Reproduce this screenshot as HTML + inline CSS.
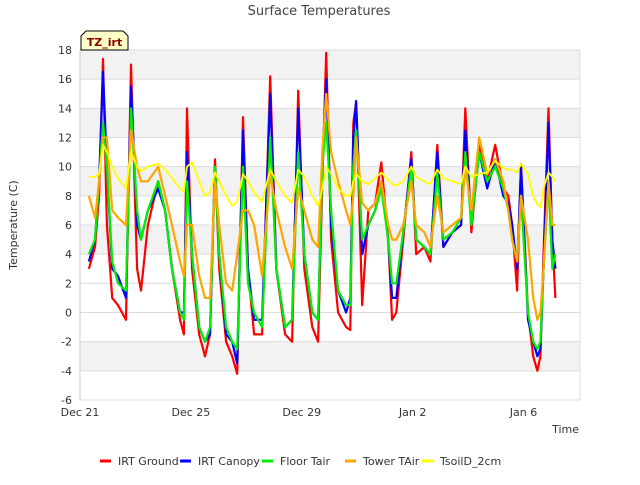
<!DOCTYPE html>
<html><head><meta charset="utf-8"><style>
body{margin:0;background:#fff;font-family:"Liberation Sans","DejaVu Sans",sans-serif}
svg text{font-family:"DejaVu Sans","Liberation Sans",sans-serif}
</style></head><body>
<svg id="c" width="640" height="480">
<rect width="640" height="480" fill="#fff"/>
<text x="319" y="15" text-anchor="middle" font-size="13" fill="#444">Surface Temperatures</text>
<g id="bands"></g><g id="grid"></g><g id="axes"></g><g id="series"></g>
<text x="579" y="433" text-anchor="end" font-size="11" fill="#333">Time</text>
<text transform="translate(17,225) rotate(-90)" text-anchor="middle" font-size="11" fill="#333">Temperature (C)</text>
<g>
<path d="M81,36 L86,31 L123,31 L128,36 L128,50 L81,50 Z" fill="#ffffc8" stroke="#000" stroke-width="1"/>
<text x="104.5" y="46" text-anchor="middle" font-size="11" font-weight="bold" fill="#8b0000">TZ_irt</text>
</g>
<g id="legend"></g>
</svg>
<script>
const days=[0.32,0.54,0.69,0.83,0.97,1.16,1.37,1.66,1.84,2.06,2.2,2.45,2.82,3.07,3.32,3.61,3.75,3.86,4.04,4.3,4.51,4.69,4.87,5.02,5.27,5.49,5.67,5.88,6.06,6.28,6.57,6.86,7.08,7.4,7.65,7.87,8.09,8.38,8.59,8.74,8.88,9.06,9.31,9.6,9.75,9.86,9.96,10.18,10.4,10.65,10.87,11.12,11.26,11.41,11.66,11.95,12.13,12.42,12.64,12.89,13.11,13.43,13.75,13.9,14.12,14.4,14.69,14.98,15.27,15.45,15.59,15.77,15.91,16.16,16.35,16.5,16.61,16.72,16.9,17.04,17.15];
const irtGround=[3,4.5,8,17.4,6,1,0.5,-0.5,17,3,1.5,6,9,7,3,-0.5,-1.5,14,3,-1.5,-3,-1.5,10.5,3,-2,-3,-4.2,13.4,3,-1.5,-1.5,16.2,3,-1.5,-2,15.2,3,-1,-2,9,17.8,5,0,-1,-1.2,13,14.4,0.5,7,7.5,10.3,5,-0.5,0,5,11,4,4.5,3.5,11.5,4.5,5.5,6,14,5.5,11.5,9,11.5,8.5,8,6,1.5,10.2,0,-3,-4,-3,4,14,5,1,5.5];
const irtCanopy=[3.5,5,9,16.5,10,3,2.5,1,15.5,6,5,7,8.5,7,3,0,0,11,4,-1,-2,-1.5,10,4,-1.5,-2,-3.5,12.5,3,-0.5,-0.5,15,3,-1,-0.5,14,4,0,-0.5,10,16,6,1.5,0,1,12,14.5,4,6,7,9,5,1,1,5.5,10.5,5,4.5,4,11,4.5,5.5,6,12.5,6,11,8.5,10.5,8,7.5,6,3,10,-0.5,-2,-3,-2.5,3,13,5,3,5];
const floorTair=[4,5,9,13,10,3.5,2,1.5,14,7,5,7,9,7,3,0,-0.5,9,4,-1,-2,-1,10,4,-1,-2,-2.5,10,2,0,-1,12,3,-1,-0.5,11,4,0,-0.5,10,13,7,1.5,0.5,0.5,10,12.5,5,6,7,8.5,5,2,2,5.5,10,5,4.5,4,9.5,5,5.5,6.5,11,6,11,9,10,8.5,7,5,3.5,8,0,-2,-2.5,-2,3,9,3,4,5];
const towerTAir=[8,6.5,9,12,12,7,6.5,6,12.5,10,9,9,10,8,6,3.5,2.5,6,6,2.5,1,1,9,6,2,1.5,4,7,7,6,2.5,9.5,7,4.5,3,8.5,7,5,4.5,11,15,11,9,7,6,8,12,7.5,7,7.5,9,6,5,5,6,9,6,5.5,4.5,8,5.5,6,6.5,10,7,12,9.5,10.5,9,7,5,3.5,8,5,1,-0.5,0,3,9,6,6,6];
const tsoil=[9.3,9.3,9.5,11.5,11,10,9.2,8.5,11,10,9.7,10,10.2,9.8,9.2,8.5,8.3,10,10.3,9,8,8.2,9.6,9,8,7.3,7.6,9.5,9,8.2,7.6,9.8,9,8,7.5,9.8,9.3,8,7.3,8.5,10,9.5,8.5,8,8,9,9.5,9,8.8,9.2,9.6,9.1,8.8,8.7,9,10,9.3,9,8.8,9.8,9.2,9,8.8,10,9.3,9.5,9.6,10.4,9.9,9.8,9.8,9.6,10.2,9.5,8,7.4,7.2,8.5,9.6,9.3,9,8.8];
const yTicks=[-6,-4,-2,0,2,4,6,8,10,12,14,16,18];
const xTickDays=[0,4,8,12,16];
const xTickLabels=["Dec 21","Dec 25","Dec 29","Jan 2","Jan 6"];
const seriesNames=["IRT Ground","IRT Canopy","Floor Tair","Tower TAir","TsoilD_2cm"];
const seriesColors=["#ff0000","#0000ff","#00ee00","#ffa500","#ffff00"];
const seriesData=[irtGround,irtCanopy,floorTair,towerTAir,tsoil];

const L=80,R=580,T=50,B=400,ymin=-6,ymax=18,dayPx=27.72;
const X=d=>L+d*dayPx;
const Y=v=>B-(v-ymin)/(ymax-ymin)*(B-T);
const NS="http://www.w3.org/2000/svg";
function mk(tag,attrs,parent){const e=document.createElementNS(NS,tag);for(const k in attrs)e.setAttribute(k,attrs[k]);parent.appendChild(e);return e;}
const bands=document.getElementById('bands'),grid=document.getElementById('grid'),axes=document.getElementById('axes'),ser=document.getElementById('series'),leg=document.getElementById('legend');
mk('rect',{x:L,y:T,width:R-L,height:B-T,fill:'#fff'},bands);
[[16,18],[12,14],[8,10],[4,6],[-4,-2]].forEach(b=>{
 const r=mk('rect',{x:L,y:Y(b[1]),width:R-L,height:Y(b[0])-Y(b[1]),fill:'#f2f2f2'},bands);
 
 
});
yTicks.forEach(v=>{
 const l=mk('line',{x1:L,x2:R,y1:Y(v),y2:Y(v),stroke:'#dcdcdc','stroke-width':1},grid);
 
 
 const t=mk('text',{x:L-8,y:Y(v)+4,'text-anchor':'end','font-size':11,fill:'#333'},axes);
 t.textContent=v;
 
 
});
mk('line',{x1:L,x2:L,y1:T,y2:B,stroke:'#ccc'},axes);
mk('line',{x1:R,x2:R,y1:T,y2:B,stroke:'#ddd'},axes);
xTickDays.forEach((d,i)=>{
 const t=mk('text',{x:X(d),y:416,'text-anchor':'middle','font-size':11,fill:'#333'},axes);
 t.textContent=xTickLabels[i];
 
 
});
seriesData.forEach((arr,i)=>{
 const pts=arr.map((v,j)=>X(days[j]).toFixed(1)+','+Y(v).toFixed(1)).join(' ');
 const p=mk('polyline',{points:pts,fill:'none',stroke:seriesColors[i],'stroke-width':i==4?1.8:2.2,'stroke-linejoin':'round'},ser);
 
 
});
const legX=[100,180,262,345,422];
seriesNames.forEach((n,i)=>{
 const g=mk('g',{},leg);
 
 
 mk('line',{x1:legX[i],x2:legX[i]+11,y1:461,y2:461,stroke:seriesColors[i],'stroke-width':3},g);
 const t=mk('text',{x:legX[i]+18,y:465,'font-size':11,fill:'#333'},g);
 t.textContent=n;
});
</script>
</body></html>
